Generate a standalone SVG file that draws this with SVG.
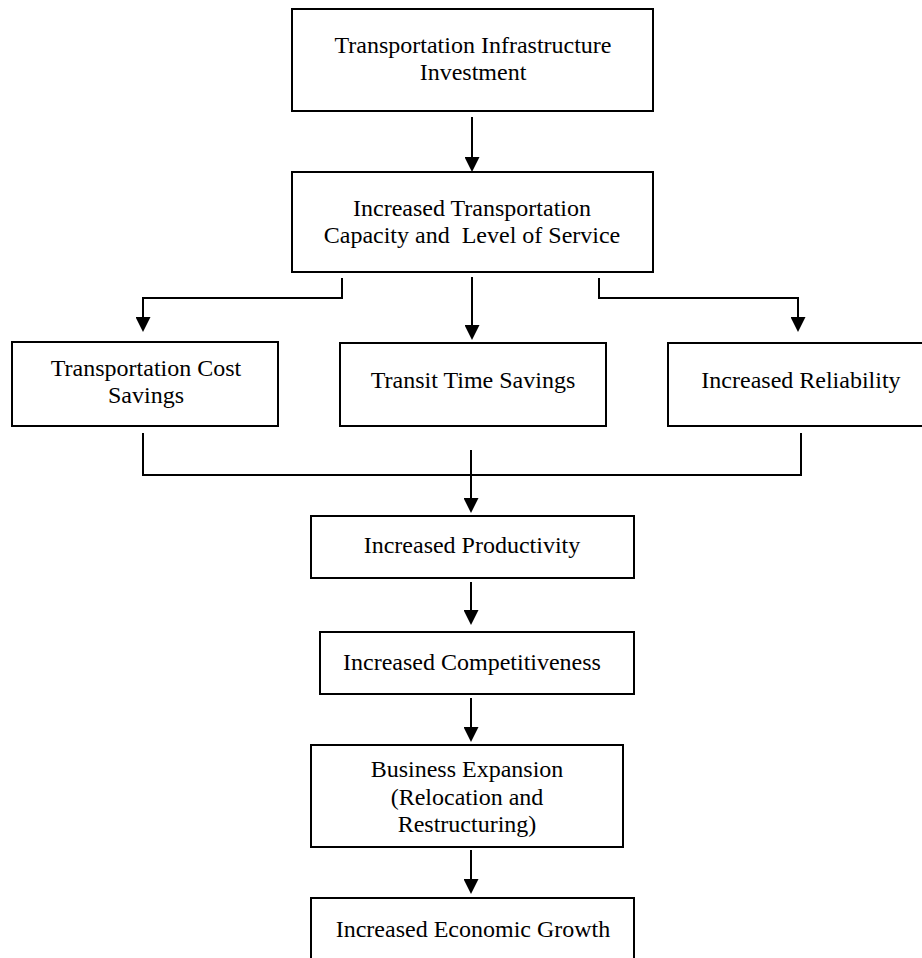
<svg xmlns="http://www.w3.org/2000/svg" width="922" height="958" viewBox="0 0 922 958">
<style>
.box{fill:#fff;stroke:#000;stroke-width:2}
.t{font-family:"Liberation Serif","Times New Roman",serif;font-size:24px;fill:#000;text-anchor:middle}
.c{fill:none;stroke:#000;stroke-width:2}
</style>
<defs>
<marker id="ah" markerUnits="userSpaceOnUse" markerWidth="16" markerHeight="15" refX="0" refY="7.5" orient="auto">
<path d="M0,0 L15,7.5 L0,15 z" fill="#000"/>
</marker>
</defs>
<rect width="922" height="958" fill="#fff"/>
<g id="connectors">
<line class="c" x1="472" y1="117" x2="472" y2="157" marker-end="url(#ah)"/>
<polyline class="c" points="342,278 342,298 143,298 143,317" marker-end="url(#ah)"/>
<line class="c" x1="472" y1="277" x2="472" y2="325" marker-end="url(#ah)"/>
<polyline class="c" points="599,278 599,298 798,298 798,317" marker-end="url(#ah)"/>
<polyline class="c" points="143,433 143,475 801,475 801,433"/>
<line class="c" x1="471" y1="450" x2="471" y2="498" marker-end="url(#ah)"/>
<line class="c" x1="471" y1="582" x2="471" y2="610" marker-end="url(#ah)"/>
<line class="c" x1="471" y1="698" x2="471" y2="727" marker-end="url(#ah)"/>
<line class="c" x1="471" y1="850" x2="471" y2="879" marker-end="url(#ah)"/>
</g>
<g id="n1"><rect class="box" x="292" y="9" width="361" height="102"/>
<text class="t" x="473" y="53">Transportation Infrastructure</text>
<text class="t" x="473" y="80">Investment</text></g>
<g id="n2"><rect class="box" x="292" y="172" width="361" height="100"/>
<text class="t" x="472" y="216">Increased Transportation</text>
<text class="t" x="472" y="243" xml:space="preserve">Capacity and  Level of Service</text></g>
<g id="n3"><rect class="box" x="12" y="342" width="266" height="84"/>
<text class="t" x="146" y="376">Transportation Cost</text>
<text class="t" x="146" y="403">Savings</text></g>
<g id="n4"><rect class="box" x="340" y="343" width="266" height="83"/>
<text class="t" x="473" y="388">Transit Time Savings</text></g>
<g id="n5"><rect class="box" x="668" y="343" width="260" height="83"/>
<text class="t" x="801" y="388">Increased Reliability</text></g>
<g id="n6"><rect class="box" x="311" y="516" width="323" height="62"/>
<text class="t" x="472" y="553">Increased Productivity</text></g>
<g id="n7"><rect class="box" x="320" y="632" width="314" height="62"/>
<text class="t" x="472" y="670">Increased Competitiveness</text></g>
<g id="n8"><rect class="box" x="311" y="745" width="312" height="102"/>
<text class="t" x="467" y="777">Business Expansion</text>
<text class="t" x="467" y="805">(Relocation and</text>
<text class="t" x="467" y="832">Restructuring)</text></g>
<g id="n9"><rect class="box" x="311" y="898" width="323" height="70"/>
<text class="t" x="473" y="937">Increased Economic Growth</text></g>
</svg>
